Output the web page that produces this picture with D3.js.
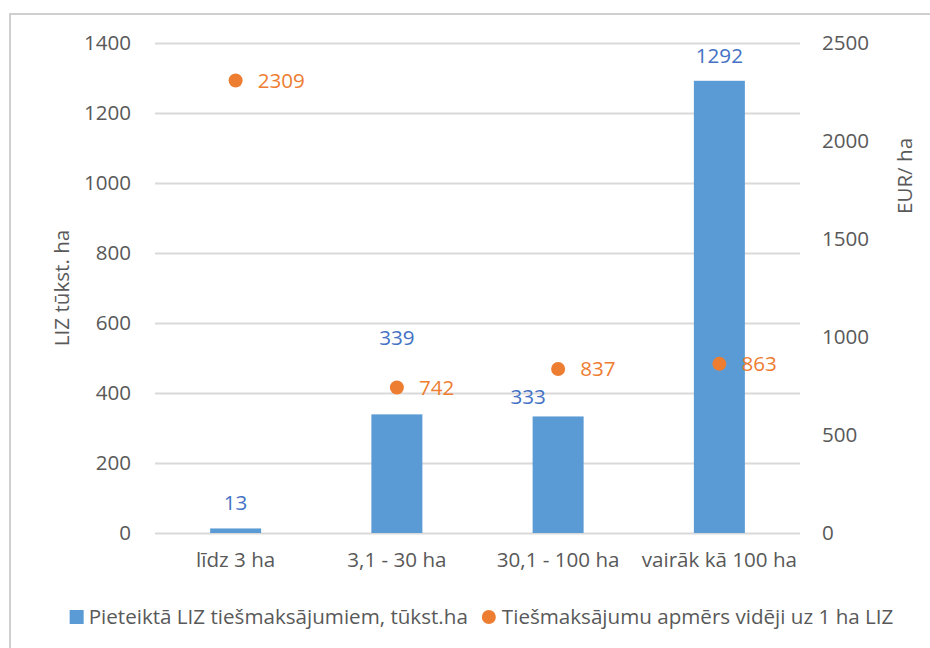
<!DOCTYPE html>
<html>
<head>
<meta charset="utf-8">
<script src="https://cdn.jsdelivr.net/npm/d3@7"></script>
<style>
  html, body { margin: 0; padding: 0; background: #fff; }
  svg { display: block; font-family: "Open Sans", sans-serif; }
</style>
</head>
<body>
<svg id="chart" width="930" height="648"></svg>
<script>
// Farm size groups
const categories = ["līdz 3 ha", "3,1 - 30 ha", "30,1 - 100 ha", "vairāk kā 100 ha"];
// Declared agricultural land for direct payments, thousand ha (left axis)
const areaValues = [13, 339, 333, 1292];
// Average direct payment per 1 ha, EUR/ha (right axis)
const paymentValues = [2309, 742, 837, 863];
// Axis ticks
const leftTicks = [0, 200, 400, 600, 800, 1000, 1200, 1400];
const rightTicks = [0, 500, 1000, 1500, 2000, 2500];
// Label nudges for the bar value labels [dx, dy], to keep them clear of the dots
const areaLabelNudge = [[0, 0], [0, -51], [-30, 6], [0, 0]];

const seriesNames = ["Pieteiktā LIZ tiešmaksājumiem, tūkst.ha", "Tiešmaksājumu apmērs vidēji uz 1 ha LIZ"];

const colors = {
  bar: "#5B9BD5",
  barLabel: "#4472C4",
  dot: "#ED7D31",
  text: "#595959",
  grid: "#D9D9D9",
  frame: "#CFCFCF"
};

const svg = d3.select("#chart");
const plot = { left: 155, right: 800, top: 43, bottom: 533 };
const fontSize = 20.6;
const fmt = d3.format("d");

// Chart frame (runs off the right and bottom edges)
svg.append("path")
  .attr("d", "M10,660 V14 H930")
  .attr("fill", "none")
  .attr("stroke", colors.frame)
  .attr("stroke-width", 2);

const x = d3.scaleBand().domain(categories).range([plot.left, plot.right]).paddingInner(0).paddingOuter(0);
const yLeft = d3.scaleLinear().domain([0, 1400]).range([plot.bottom, plot.top]);
const yRight = d3.scaleLinear().domain([0, 2500]).range([plot.bottom, plot.top]);

// Gridlines
svg.append("g")
  .selectAll("line")
  .data(leftTicks)
  .join("line")
  .attr("x1", plot.left).attr("x2", plot.right)
  .attr("y1", d => Math.round(yLeft(d)) + 0.5)
  .attr("y2", d => Math.round(yLeft(d)) + 0.5)
  .attr("stroke", colors.grid)
  .attr("stroke-width", 2);

function styleAxisText(g) {
  g.select(".domain").remove();
  g.selectAll("text")
    .attr("fill", colors.text)
    .style("font-size", fontSize + "px")
    .style("font-family", "'Open Sans', sans-serif");
}

// Left axis
svg.append("g")
  .attr("transform", `translate(${plot.left},0)`)
  .call(d3.axisLeft(yLeft).tickValues(leftTicks).tickFormat(fmt).tickSize(0).tickPadding(24))
  .call(styleAxisText);

// Right axis
svg.append("g")
  .attr("transform", `translate(${plot.right},0)`)
  .call(d3.axisRight(yRight).tickValues(rightTicks).tickFormat(fmt).tickSize(0).tickPadding(22))
  .call(styleAxisText);

// Category axis
svg.append("g")
  .attr("transform", `translate(0,${plot.bottom})`)
  .call(d3.axisBottom(x).tickSize(0).tickPadding(19))
  .call(styleAxisText);

// Axis titles
svg.append("text")
  .attr("transform", `translate(69,288) rotate(-90)`)
  .attr("text-anchor", "middle")
  .attr("fill", colors.text)
  .style("font-size", fontSize + "px")
  .text("LIZ tūkst. ha");

svg.append("text")
  .attr("transform", `translate(912,176) rotate(-90)`)
  .attr("text-anchor", "middle")
  .attr("fill", colors.text)
  .style("font-size", fontSize + "px")
  .text("EUR/ ha");

// Bars
const barWidth = 51;
svg.append("g")
  .selectAll("rect")
  .data(areaValues)
  .join("rect")
  .attr("x", (d, i) => x(categories[i]) + x.bandwidth() / 2 - barWidth / 2)
  .attr("y", d => yLeft(d))
  .attr("width", barWidth)
  .attr("height", d => plot.bottom - yLeft(d))
  .attr("fill", colors.bar);

// Bar value labels
svg.append("g")
  .selectAll("text")
  .data(areaValues)
  .join("text")
  .attr("x", (d, i) => x(categories[i]) + x.bandwidth() / 2 + areaLabelNudge[i][0])
  .attr("y", (d, i) => yLeft(d) - 18 + areaLabelNudge[i][1])
  .attr("text-anchor", "middle")
  .attr("fill", colors.barLabel)
  .style("font-size", fontSize + "px")
  .text(d => d);

// Payment dots
svg.append("g")
  .selectAll("circle")
  .data(paymentValues)
  .join("circle")
  .attr("cx", (d, i) => x(categories[i]) + x.bandwidth() / 2)
  .attr("cy", d => yRight(d))
  .attr("r", 7)
  .attr("fill", colors.dot);

// Payment value labels
svg.append("g")
  .selectAll("text")
  .data(paymentValues)
  .join("text")
  .attr("x", (d, i) => x(categories[i]) + x.bandwidth() / 2 + 22)
  .attr("y", d => yRight(d))
  .attr("dy", "0.35em")
  .attr("fill", colors.dot)
  .style("font-size", fontSize + "px")
  .text(d => d);

// Legend
const legend = svg.append("g");
const item1 = legend.append("g");
item1.append("rect").attr("x", 0).attr("y", -7).attr("width", 14).attr("height", 14).attr("fill", colors.bar);
const t1 = item1.append("text").attr("x", 19).attr("dy", "0.35em")
  .attr("fill", colors.text).style("font-size", fontSize + "px").text(seriesNames[0]);
const w1 = 19 + t1.node().getComputedTextLength();

const item2 = legend.append("g").attr("transform", `translate(${w1 + 14},0)`);
item2.append("circle").attr("cx", 7).attr("cy", 0).attr("r", 7).attr("fill", colors.dot);
const t2 = item2.append("text").attr("x", 20).attr("dy", "0.35em")
  .attr("fill", colors.text).style("font-size", fontSize + "px").text(seriesNames[1]);
const totalW = w1 + 14 + 20 + t2.node().getComputedTextLength();

legend.attr("transform", `translate(${481.5 - totalW / 2},617)`);
</script>
</body>
</html>
